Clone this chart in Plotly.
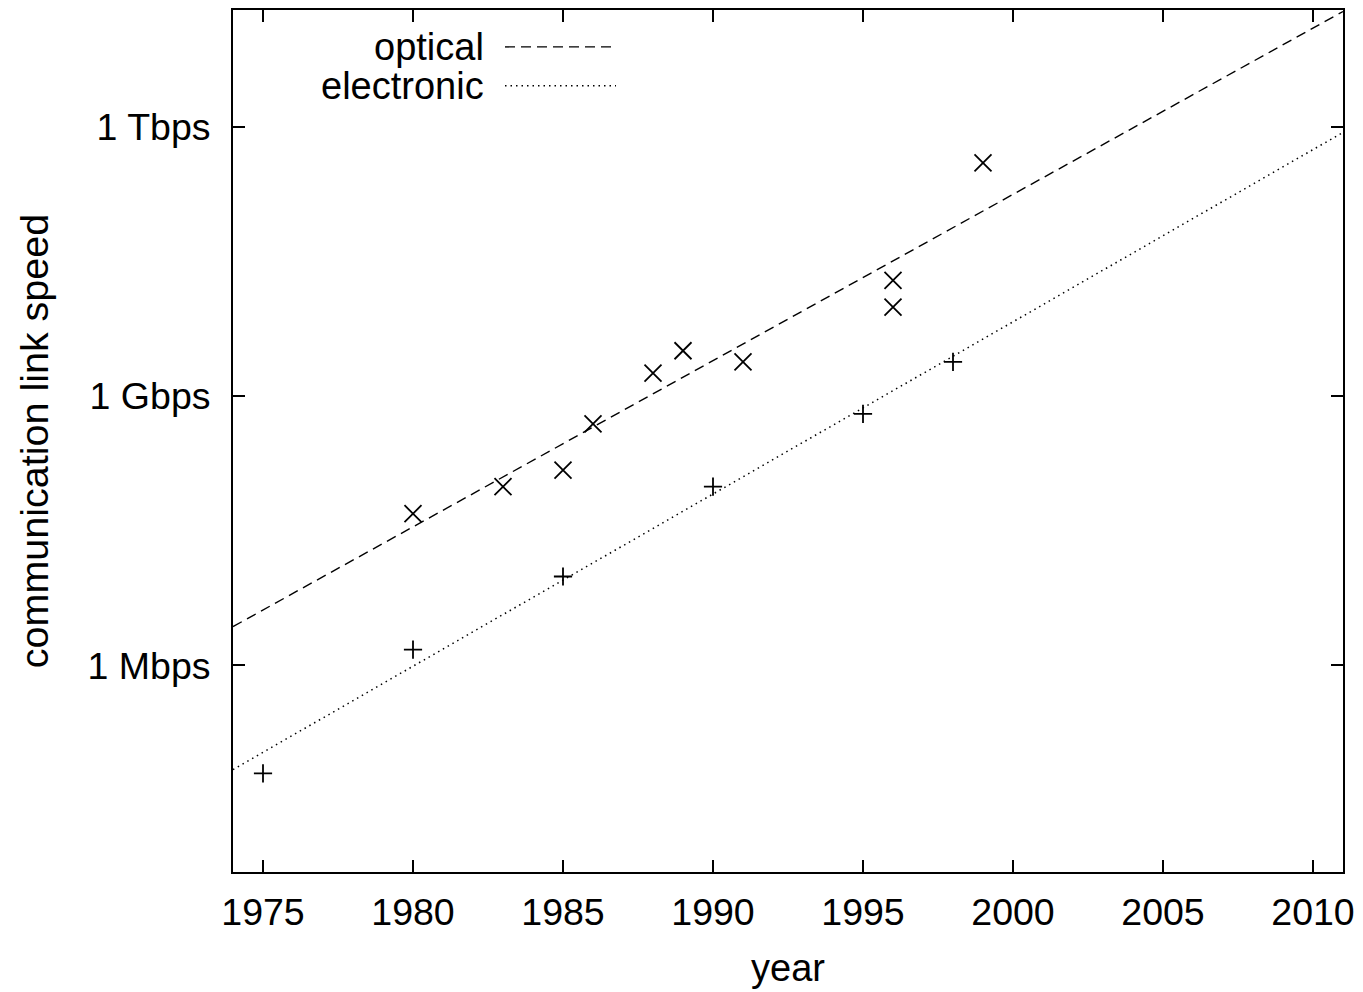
import plotly.graph_objects as go

# Measured link speeds (bits per second)
optical_years = [1980, 1983, 1985, 1986, 1988, 1989, 1991, 1996, 1996, 1999]
optical_bps = [49e6, 98e6, 150e6, 490e6, 1.8e9, 3.2e9, 2.4e9, 19.5e9, 9.8e9, 396e9]

electronic_years = [1975, 1980, 1985, 1990, 1995, 1998]
electronic_bps = [63e3, 1.5e6, 9.8e6, 98e6, 635e6, 2.4e9]

# Exponential trend lines (endpoints over the plotted year span)
fit_years = [1974, 2011]
optical_fit_bps = [10 ** 6.433, 10 ** 13.283]
electronic_fit_bps = [10 ** 4.841, 10 ** 11.937]

# Axis ticks
x_ticks = [1975, 1980, 1985, 1990, 1995, 2000, 2005, 2010]
y_tick_vals = [1e6, 1e9, 1e12]
y_tick_text = ["1 Mbps", "1 Gbps", "1 Tbps"]

FONT = "Liberation Sans, Arial, sans-serif"
INK = "#000000"
FS = 37.5

fig = go.Figure()

fig.add_trace(go.Scatter(
    x=fit_years, y=optical_fit_bps, mode="lines",
    line=dict(color=INK, width=1.4, dash="10px,6px"), showlegend=False,
))
fig.add_trace(go.Scatter(
    x=fit_years, y=electronic_fit_bps, mode="lines",
    line=dict(color=INK, width=1.5, dash="1.5px,4px"), showlegend=False,
))
fig.add_trace(go.Scatter(
    x=optical_years, y=optical_bps, mode="markers",
    marker=dict(symbol="x-thin", size=17, line=dict(color=INK, width=1.8)),
    showlegend=False,
))
fig.add_trace(go.Scatter(
    x=electronic_years, y=electronic_bps, mode="markers",
    marker=dict(symbol="cross-thin", size=13, line=dict(color=INK, width=1.8)),
    showlegend=False,
))

# Key in the upper-left corner: label text followed by a line sample
L, R, T, B = 233, 1343, 8, 872
W, H = R - L, B - T


def px_x(p):
    return (p - L) / W


def px_y(p):
    return (B - p) / H


key = [("optical", 45, "10px,6px", 1.4), ("electronic", 84, "1.5px,4px", 1.5)]
for label, yp, dash, lw in key:
    fig.add_annotation(
        x=px_x(486), y=px_y(yp), xref="paper", yref="paper",
        text=label, showarrow=False, xanchor="right", yanchor="middle",
        font=dict(family=FONT, size=38, color=INK),
    )
    fig.add_shape(
        type="line", xref="paper", yref="paper",
        x0=px_x(505), x1=px_x(616), y0=px_y(yp), y1=px_y(yp),
        line=dict(color=INK, width=lw, dash=dash),
    )

axis_common = dict(
    showline=True, linecolor=INK, linewidth=2, mirror="ticks",
    ticks="inside", ticklen=12, tickwidth=2, tickcolor=INK,
    showgrid=False, zeroline=False,
    tickfont=dict(family=FONT, size=FS, color=INK),
)

fig.update_xaxes(
    range=[1974, 2011], tickvals=x_ticks,
    title_text="year", title_standoff=22, ticklabelstandoff=6,
    title_font=dict(family=FONT, size=38, color=INK),
    **axis_common,
)
fig.update_yaxes(
    type="log", range=[3.7, 13.3], tickvals=y_tick_vals, ticktext=y_tick_text,
    title_text="communication link speed", title_standoff=27, ticklabelstandoff=13,
    title_font=dict(family=FONT, size=39.5, color=INK),
    **axis_common,
)

fig.update_layout(
    width=1363, height=992,
    margin=dict(l=L, r=1363 - R, t=T, b=992 - B),
    paper_bgcolor="white", plot_bgcolor="white",
    font=dict(family=FONT, color=INK),
)

fig.write_html("out.html")
